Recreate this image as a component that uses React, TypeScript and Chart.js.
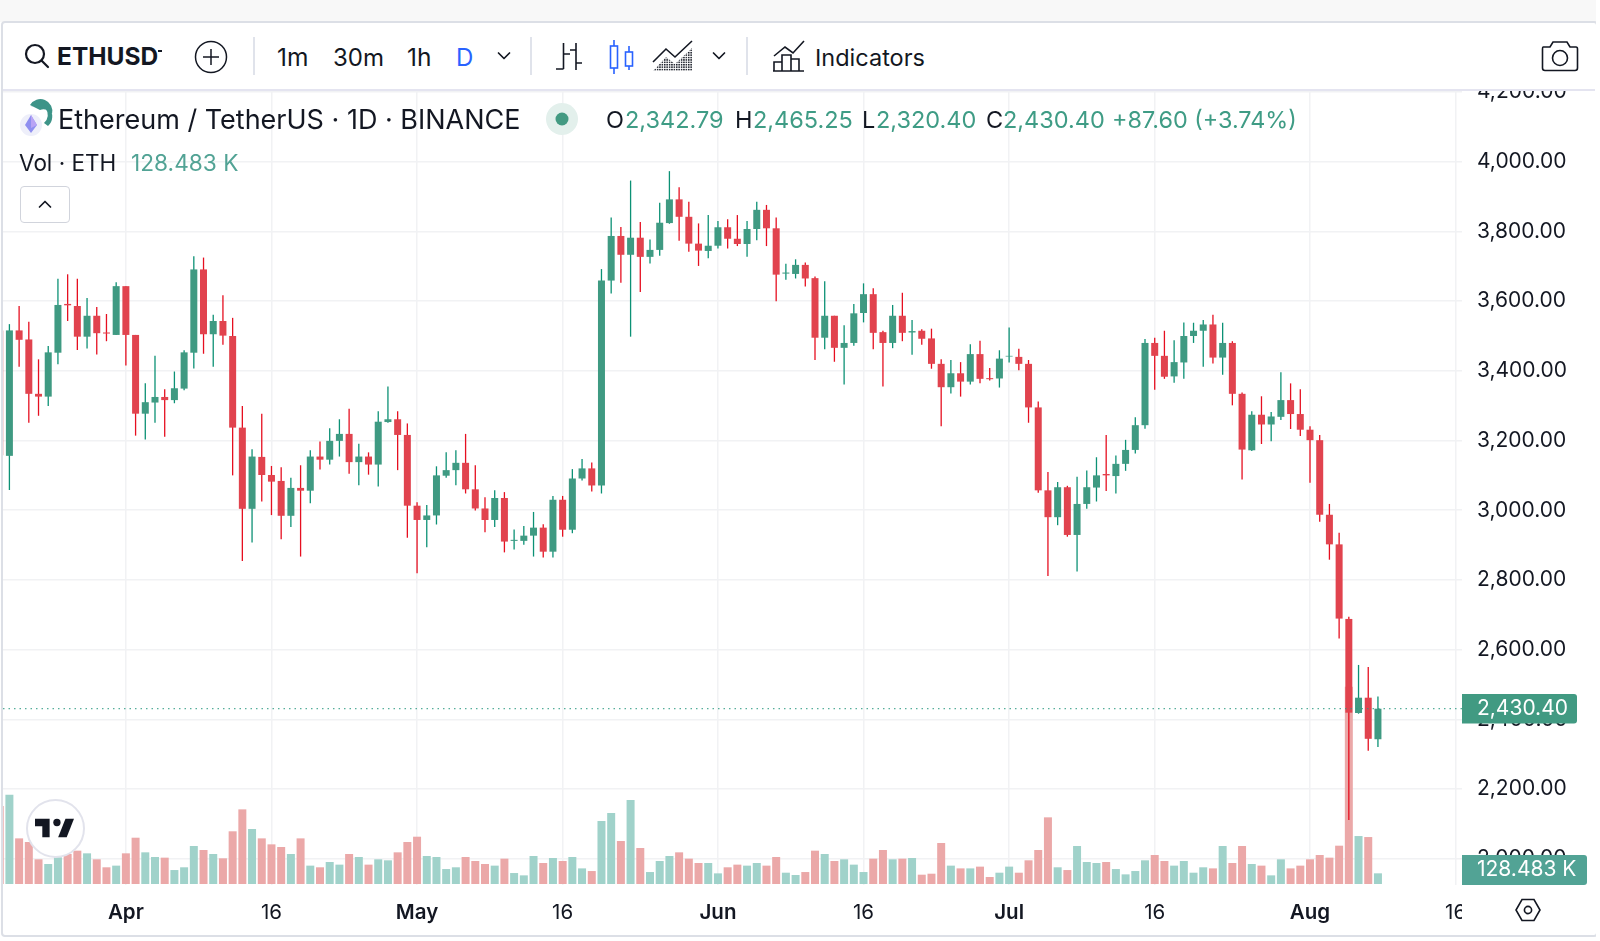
import React, { useEffect, useRef } from "react";
import { Chart, registerables } from "chart.js";

Chart.register(...registerables);

// Daily candles, Mar 19 to Aug 8 (first entry lies just off the left edge)
const firstDayOffset = -13; // days relative to Apr 1
const opens = [
  3516, 3156, 3516, 3490, 3334, 3326, 3452, 3592, 3586, 3498, 3558, 3510, 3503,
  3643, 3503, 3277, 3309, 3325, 3316, 3349, 3452, 3691, 3505, 3543, 3500, 3237, 3004, 3153, 3101, 3084, 2984, 3064, 3056, 3154, 3145, 3199, 3219, 3138, 3154, 3131, 3253, 3261, 3216,
  3013, 2972, 2985, 3099, 3115, 3136, 3060, 3005, 2972, 3035, 2912, 2912, 2927, 2950, 2881, 3030, 2944, 3091, 3120, 3071, 3659, 3787, 3733, 3782, 3727, 3747, 3824, 3892, 3842, 3765, 3744,
  3759, 3812, 3779, 3764, 3807, 3862, 3809, 3679, 3678, 3704, 3666, 3495, 3558, 3466, 3480, 3566, 3620, 3511, 3480, 3558, 3510, 3515, 3493, 3420, 3353, 3393, 3369, 3448, 3379, 3378,
  3441, 3440, 3420, 3295, 3057, 2980, 3066, 2929, 3018, 3065, 3104, 3098, 3133, 3173, 3244, 3480, 3443, 3384, 3424, 3500, 3515, 3533, 3438, 3480, 3334, 3172, 3274, 3246, 3268, 3316, 3276,
  3231, 3201, 2987, 2902, 2688, 2418, 2462, 2342.79,
];
const closes = [
  3158, 3516, 3489, 3334, 3326, 3453, 3589, 3588, 3498, 3558, 3508, 3507, 3643,
  3503, 3277, 3310, 3325, 3316, 3350, 3453, 3691, 3505, 3543, 3501, 3237, 3004, 3154, 3101, 3082, 2984, 3064, 3056, 3154, 3145, 3199, 3219, 3138, 3154, 3131, 3254, 3261, 3216, 3013,
  2972, 2985, 3100, 3115, 3136, 3060, 3005, 2972, 3035, 2910, 2915, 2927, 2950, 2881, 3030, 2944, 3091, 3120, 3071, 3659, 3787, 3733, 3782, 3727, 3747, 3825, 3892, 3842, 3765, 3745, 3759,
  3812, 3779, 3764, 3807, 3862, 3809, 3676, 3682, 3704, 3665, 3495, 3558, 3466, 3480, 3565, 3620, 3509, 3480, 3558, 3509, 3514, 3492, 3420, 3353, 3393, 3369, 3448, 3377, 3376, 3435,
  3443, 3420, 3295, 3057, 2980, 3066, 2929, 3018, 3066, 3100, 3100, 3133, 3173, 3244, 3480, 3443, 3383, 3425, 3500, 3515, 3533, 3438, 3480, 3334, 3174, 3274, 3246, 3269, 3316, 3276, 3231,
  3201, 2987, 2902, 2689, 2419, 2462, 2344, 2430.4,
];
const highs = [
  3540, 3534, 3586, 3541, 3433, 3471, 3664, 3677, 3664, 3609, 3583, 3563, 3654,
  3643, 3503, 3364, 3443, 3347, 3398, 3459, 3729, 3725, 3561, 3617, 3552, 3299, 3175, 3277, 3127, 3123, 3093, 3129, 3172, 3197, 3235, 3261, 3291, 3191, 3166, 3284, 3355, 3284, 3249,
  3023, 3015, 3126, 3166, 3172, 3219, 3129, 3037, 3057, 3052, 2945, 2955, 2995, 2960, 3041, 3041, 3118, 3147, 3137, 3692, 3840, 3813, 3946, 3827, 3777, 3882, 3973, 3927, 3885, 3823, 3847,
  3830, 3835, 3847, 3830, 3885, 3876, 3840, 3707, 3720, 3711, 3671, 3657, 3558, 3531, 3592, 3651, 3637, 3515, 3589, 3624, 3546, 3519, 3521, 3433, 3431, 3425, 3476, 3486, 3408, 3459,
  3524, 3463, 3431, 3312, 3110, 3081, 3070, 3096, 3114, 3152, 3216, 3157, 3202, 3267, 3491, 3495, 3515, 3488, 3539, 3538, 3546, 3561, 3538, 3485, 3338, 3284, 3327, 3282, 3396, 3364, 3347,
  3241, 3216, 3018, 2935, 2694, 2556, 2550, 2465.25,
];
const lows = [
  3060, 3058, 3412, 3251, 3271, 3299, 3419, 3543, 3460, 3464, 3447, 3485, 3503,
  3415, 3214, 3203, 3251, 3211, 3307, 3344, 3407, 3449, 3412, 3475, 3100, 2854, 2907, 3025, 2986, 2917, 2952, 2867, 3020, 3117, 3131, 3154, 3105, 3072, 3102, 3068, 3251, 3115, 2921,
  2819, 2894, 2959, 3093, 3072, 3048, 2999, 2937, 2952, 2879, 2887, 2901, 2867, 2864, 2864, 2924, 2934, 3085, 3054, 3048, 3622, 3653, 3498, 3626, 3708, 3730, 3822, 3773, 3742, 3701, 3723,
  3751, 3751, 3758, 3727, 3775, 3758, 3600, 3661, 3665, 3642, 3431, 3462, 3426, 3361, 3472, 3539, 3462, 3355, 3465, 3485, 3446, 3475, 3406, 3241, 3335, 3326, 3361, 3364, 3372, 3352,
  3424, 3402, 3251, 3050, 2811, 2957, 2924, 2824, 3004, 3025, 3055, 3048, 3113, 3163, 3234, 3346, 3377, 3366, 3377, 3480, 3412, 3421, 3389, 3301, 3088, 3170, 3190, 3198, 3259, 3233, 3213,
  3079, 2967, 2858, 2632, 2111, 2416, 2310, 2320.4,
];
// Volume in thousands of ETH
const volumes = [
  938, 1075, 549, 505, 297, 241, 321, 361, 401, 369, 297, 201, 221,
  369, 557, 381, 325, 317, 168, 201, 457, 409, 361, 309, 634, 898, 662, 549, 477, 445, 361, 549, 221, 201, 265, 233, 361, 325, 233, 297, 285, 381, 505,
  569, 337, 325, 180, 201, 325, 277, 241, 221, 305, 132, 104, 337, 253, 313, 277, 325, 188, 156, 758, 854, 517, 1011, 433, 144, 277, 337, 381, 305, 253, 253,
  128, 201, 233, 221, 253, 221, 325, 136, 108, 144, 401, 361, 277, 297, 233, 144, 305, 409, 297, 305, 313, 112, 124, 493, 221, 188, 188, 209, 84, 136,
  209, 136, 285, 409, 802, 201, 168, 457, 265, 253, 265, 180, 116, 156, 285, 349, 277, 221, 277, 136, 201, 188, 457, 253, 457, 241, 221, 104, 297, 188, 221,
  297, 349, 317, 461, 2374, 577, 565, 128.483,
];

const timeTickDays = [0, 15, 30, 45, 61, 76, 91, 106, 122, 137];
const timeTickLabels = ["Apr", "16", "May", "16", "Jun", "16", "Jul", "16", "Aug", "16"];
const priceTicks = [2000, 2200, 2400, 2600, 2800, 3000, 3200, 3400, 3600, 3800, 4000, 4200];

const lastPrice = 2430.4;
const lastPriceLabel = "2,430.40";
const lastVolumeLabel = "128.483 K";
const ohlcLegend = [
  ["O", "2,342.79", 606, 625],
  ["H", "2,465.25", 735, 753],
  ["L", "2,320.40", 862, 876],
  ["C", "2,430.40", 986, 1003],
] as const;

const UP_BODY = "#3f9a82";
const DOWN_BODY = "#e1434e";
const UP_WICK = "#0c9175";
const DOWN_WICK = "#e60f20";
const UP_VOL = "#a0d2ca";
const DOWN_VOL = "#eba8a8";
const GREEN_TEXT = "#3f9c85";
const INK = "#131722";
const GRID = "#f1f2f4";
const FONT = "Inter, 'Noto Sans', sans-serif";

function Txt(p: { x: number; y: number; size: number; color?: string; weight?: number; ls?: number; children: React.ReactNode }) {
  return (
    <div
      style={{
        position: "absolute",
        left: p.x,
        top: p.y,
        transform: "translateY(-50%)",
        fontFamily: FONT,
        fontSize: p.size,
        lineHeight: 1.2,
        fontWeight: p.weight ?? 400,
        color: p.color ?? INK,
        letterSpacing: p.ls ?? 0,
        whiteSpace: "pre",
      }}
    >
      {p.children}
    </div>
  );
}

function Box(p: { x: number; y: number; w: number; h: number; children?: React.ReactNode; viewBox?: string }) {
  return (
    <svg
      style={{ position: "absolute", left: p.x, top: p.y, overflow: "visible" }}
      width={p.w}
      height={p.h}
      viewBox={p.viewBox ?? `0 0 ${p.w} ${p.h}`}
      fill="none"
    >
      {p.children}
    </svg>
  );
}

function Divider({ x }: { x: number }) {
  return <div style={{ position: "absolute", left: x, top: 37, width: 1.5, height: 38, background: "#e0e3eb" }} />;
}

function Chevron({ x, y, up }: { x: number; y: number; up?: boolean }) {
  return (
    <Box x={x - 7} y={y - 5} w={14} h={10}>
      <path d={up ? "M1.5 8 L7 2.5 L12.5 8" : "M1.5 2 L7 7.5 L12.5 2"} stroke={INK} strokeWidth={1.7} strokeLinecap="round" strokeLinejoin="round" />
    </Box>
  );
}

export default function App() {
  const ref = useRef<HTMLCanvasElement | null>(null);

  useEffect(() => {
    if (!ref.current) return;
    const xs = opens.map((_, i) => i + firstDayOffset);
    const isUp = opens.map((o, i) => closes[i] >= o);

    const chart = new Chart(ref.current, {
      type: "bar",
      data: {
        datasets: [
          {
            type: "line",
            label: "Last price",
            data: [
              { x: -12.66, y: lastPrice },
              { x: 137.66, y: lastPrice },
            ],
            borderColor: "#2b9a80",
            borderWidth: 1,
            borderDash: [1.5, 4],
            pointRadius: 0,
            yAxisID: "y",
            order: 0,
          },
          {
            label: "Body",
            data: xs.map((x, i) => ({ x, y: [opens[i], closes[i]] })),
            backgroundColor: isUp.map((u) => (u ? UP_BODY : DOWN_BODY)),
            barThickness: 7,
            grouped: false,
            inflateAmount: 0,
            yAxisID: "y",
            order: 1,
          },
          {
            label: "Wick",
            data: xs.map((x, i) => ({ x, y: [lows[i], highs[i]] })),
            backgroundColor: isUp.map((u) => (u ? UP_WICK : DOWN_WICK)),
            barThickness: 1.3,
            grouped: false,
            inflateAmount: 0,
            yAxisID: "y",
            order: 2,
          },
          {
            label: "Volume",
            data: xs.map((x, i) => ({ x, y: volumes[i] })),
            backgroundColor: isUp.map((u) => (u ? UP_VOL : DOWN_VOL)),
            barThickness: 8,
            grouped: false,
            inflateAmount: 0,
            yAxisID: "yVol",
            order: 3,
          },
        ] as any,
      },
      options: {
        animation: false,
        responsive: false,
        events: [],
        layout: { padding: { left: 3, top: 91, right: 0, bottom: 0 } },
        plugins: { legend: { display: false }, tooltip: { enabled: false } },
        scales: {
          x: {
            type: "linear",
            offset: false,
            min: -12.66,
            max: 137.66,
            afterBuildTicks: (s: any) => {
              s.ticks = timeTickDays.map((value) => ({ value }));
            },
            afterFit: (s: any) => {
              s.height = 56;
            },
            grid: { color: GRID, lineWidth: 1.5, drawTicks: false, offset: false },
            border: { display: false },
            ticks: {
              autoSkip: false,
              maxRotation: 0,
              padding: 16,
              color: INK,
              font: (c: any) => ({
                family: FONT,
                size: 20.5,
                weight: timeTickLabels[timeTickDays.indexOf(c.tick?.value)] === "16" ? 400 : 600,
              }),
              callback: (v: any) => timeTickLabels[timeTickDays.indexOf(Number(v))] ?? "",
            },
          },
          y: {
            type: "linear",
            position: "right",
            min: 1924.5,
            max: 4203,
            z: 1,
            afterBuildTicks: (s: any) => {
              s.ticks = priceTicks.map((value) => ({ value }));
            },
            afterFit: (s: any) => {
              s.width = 138;
            },
            grid: { color: GRID, lineWidth: 1.5, drawTicks: false },
            border: { display: false },
            ticks: {
              padding: 15,
              color: INK,
              font: { family: FONT, size: 21 },
              callback: (v: any) =>
                Number(v).toLocaleString("en-US", { minimumFractionDigits: 2, maximumFractionDigits: 2 }),
            },
          },
          yVol: {
            type: "linear",
            display: false,
            min: -12,
            max: 9540,
          },
        },
      } as any,
      plugins: [
        {
          id: "clipTimeAxis",
          // Hides the end of the last time label where the price column starts.
          beforeDatasetsDraw(c: any) {
            const { ctx, chartArea } = c;
            ctx.save();
            ctx.fillStyle = "#ffffff";
            ctx.fillRect(chartArea.right, chartArea.bottom, 138, 56);
            ctx.restore();
          },
        },
        {
          id: "lastValueTags",
          afterDraw(c: any) {
            const { ctx, chartArea, scales } = c;
            const py = scales.y.getPixelForValue(lastPrice);
            const left = chartArea.right;
            ctx.save();
            ctx.fillStyle = "#419a82";
            ctx.beginPath();
            ctx.roundRect(left, py - 14.7, 115, 29.4, [0, 3, 3, 0]);
            ctx.fill();
            ctx.fillStyle = "#ffffff";
            ctx.font = `21px ${FONT}`;
            ctx.textAlign = "left";
            ctx.textBaseline = "middle";
            ctx.fillText(lastPriceLabel, left + 15, py);
            ctx.fillStyle = "#52a395";
            ctx.beginPath();
            ctx.roundRect(left, chartArea.bottom - 30, 125, 30, [0, 3, 3, 0]);
            ctx.fill();
            ctx.fillStyle = "#ffffff";
            ctx.fillText(lastVolumeLabel, left + 15, chartArea.bottom - 15);
            ctx.restore();
          },
        },
      ],
    });
    return () => chart.destroy();
  }, []);

  return (
    <div style={{ position: "fixed", left: 0, top: 0, width: 1600, height: 941, background: "#ffffff", overflow: "hidden" }}>
      <div style={{ position: "absolute", left: 0, top: 0, width: 1600, height: 22, background: "#f8f8f8" }} />
      <canvas ref={ref} width={1600} height={941} style={{ position: "absolute", left: 0, top: 0, display: "block" }} />

      {/* toolbar */}
      <div style={{ position: "absolute", left: 3, top: 22, width: 1592, height: 67, background: "#ffffff", borderBottom: "2px solid #e4e4f0" }} />
      <div style={{ position: "absolute", left: 1, top: 21, width: 1593, height: 912, border: "2px solid #dcdfe6", borderRadius: 4, pointerEvents: "none" }} />
      <div style={{ position: "absolute", left: 1596, top: 0, width: 4, height: 941, background: "#ffffff" }} />

      <Box x={24} y={43} w={26} h={26}>
        <circle cx={11} cy={11} r={9} stroke={INK} strokeWidth={2.2} />
        <path d="M17.5 17.5 L24 24" stroke={INK} strokeWidth={2.2} strokeLinecap="round" />
      </Box>
      <Txt x={57} y={57} size={24.5} weight={700}>ETHUSD</Txt>
      <div style={{ position: "absolute", left: 158, top: 50, width: 4, height: 2, background: INK }} />
      <Box x={195} y={41} w={32} h={32}>
        <circle cx={16} cy={16} r={15.5} stroke={INK} strokeWidth={1.5} />
        <path d="M16 8 V24 M8 16 H24" stroke={INK} strokeWidth={1.5} />
      </Box>
      <Divider x={253} />
      <Txt x={277} y={58} size={24.5}>1m</Txt>
      <Txt x={333} y={58} size={24}>30m</Txt>
      <Txt x={407} y={58} size={24.5}>1h</Txt>
      <Txt x={456} y={58} size={24} color="#2962ff">D</Txt>
      <Chevron x={504} y={56} />
      <Divider x={530} />
      <Box x={555} y={42} w={28} h={30}>
        <path d="M8.5 1 V27 M1 27 H8.5 M8.5 12 H15 M21 1 V28 M15 8 H21 M21 21 H27" stroke={INK} strokeWidth={1.6} />
      </Box>
      <Box x={608} y={39} w={28} h={36}>
        <path d="M6 1 V35 M21 7 V31" stroke="#2962ff" strokeWidth={1.6} />
        <rect x={2.5} y={7} width={7} height={22} fill="#ffffff" stroke="#2962ff" strokeWidth={1.6} />
        <rect x={17.5} y={13} width={7} height={14} fill="#ffffff" stroke="#2962ff" strokeWidth={1.6} />
      </Box>
      <Box x={652} y={40} w={41} h={32}>
        <defs>
          <pattern id="dots" width={2.4} height={2.4} patternUnits="userSpaceOnUse">
            <rect width={1.5} height={1.5} fill={INK} />
          </pattern>
        </defs>
        <path d="M1 31 L14 17 L23 24 L40 8 V31 Z" fill="url(#dots)" />
        <path d="M1 22 L14 9 L23 17 L40 1" stroke={INK} strokeWidth={1.6} />
      </Box>
      <Chevron x={719} y={56} />
      <Divider x={746} />
      <Box x={772} y={40} w={34} h={32}>
        <path d="M2 16 L13 7 L21 13 L32 1" stroke={INK} strokeWidth={1.6} />
        <path d="M1 31 H32 M2 31 V22 H10 V31 M10 31 V15 H19 V31 M19 31 V19 H27 V31" stroke={INK} strokeWidth={1.6} />
      </Box>
      <Txt x={815} y={58} size={23.5}>Indicators</Txt>
      <Box x={1541} y={40} w={38} h={32}>
        <path d="M2 7 H9 L12 2 H26 L29 7 H35 Q36.5 7 36.5 9 V28 Q36.5 30.5 34 30.5 H4 Q1.5 30.5 1.5 28 V9 Q1.5 7 2 7 Z" stroke={INK} strokeWidth={1.6} />
        <circle cx={19} cy={18} r={7.5} stroke={INK} strokeWidth={1.6} />
      </Box>

      {/* legend */}
      <Box x={18} y={100} w={36} h={38}>
        <path d="M13 7 A 11.5 11.5 0 1 1 30 26 L 26 23 A 8 8 0 0 0 13 7 Z" fill="#3d9488" />
        <path d="M12 5 A 12 12 0 0 1 34 14 A 10 10 0 0 0 22 10 Z" fill="#3d9488" />
        <circle cx={13} cy={25} r={11} fill="#eeeffa" />
        <path d="M13 15 L19 25 L13 33 L7 25 Z" fill="#8f8ff0" />
        <path d="M13 15 L19 25 L13 28 Z" fill="#b9a4f5" />
      </Box>
      <Txt x={58} y={120} size={27}>Ethereum / TetherUS · 1D · BINANCE</Txt>
      <Box x={546} y={103} w={32} h={32}>
        <circle cx={16} cy={16} r={16} fill="#e3f0ec" />
        <circle cx={16} cy={16} r={6.5} fill="#439a82" />
      </Box>
      {ohlcLegend.map(([k, v, kx, vx]) => (
        <React.Fragment key={k}>
          <Txt x={kx} y={120} size={23.5}>{k}</Txt>
          <Txt x={vx} y={120} size={23.5} color={GREEN_TEXT}>{v}</Txt>
        </React.Fragment>
      ))}
      <Txt x={1112} y={120} size={23.4} color={GREEN_TEXT}>+87.60 (+3.74%)</Txt>
      <Txt x={19} y={162} size={22.5}>Vol · ETH</Txt>
      <Txt x={131} y={163} size={22.7} color="#52a395">128.483 K</Txt>
      <div style={{ position: "absolute", left: 20, top: 186, width: 48, height: 35, border: "1.5px solid #d1d4dc", borderRadius: 4, background: "#ffffff" }} />
      <Chevron x={44.5} y={204} up />

      {/* attribution logo */}
      <div style={{ position: "absolute", left: 26, top: 799, width: 55, height: 55, borderRadius: "50%", background: "#ffffff", border: "2px solid #e2e3ec" }} />
      <Box x={35} y={818} w={39} h={20} viewBox="2 6 32 15">
        <path d="M14 6H2v6h6v9h6V6Z" fill={INK} />
        <path d="M28 21h-7l6-15h7l-6 15Z" fill={INK} />
        <circle cx={20} cy={9} r={3} fill={INK} />
      </Box>

      {/* settings */}
      <Box x={1515} y={898} w={26} h={24}>
        <path d="M7 1.5 H19 L25 12 L19 22.5 H7 L1 12 Z" stroke={INK} strokeWidth={1.6} />
        <circle cx={13} cy={12} r={3.6} stroke={INK} strokeWidth={1.6} />
      </Box>
    </div>
  );
}
